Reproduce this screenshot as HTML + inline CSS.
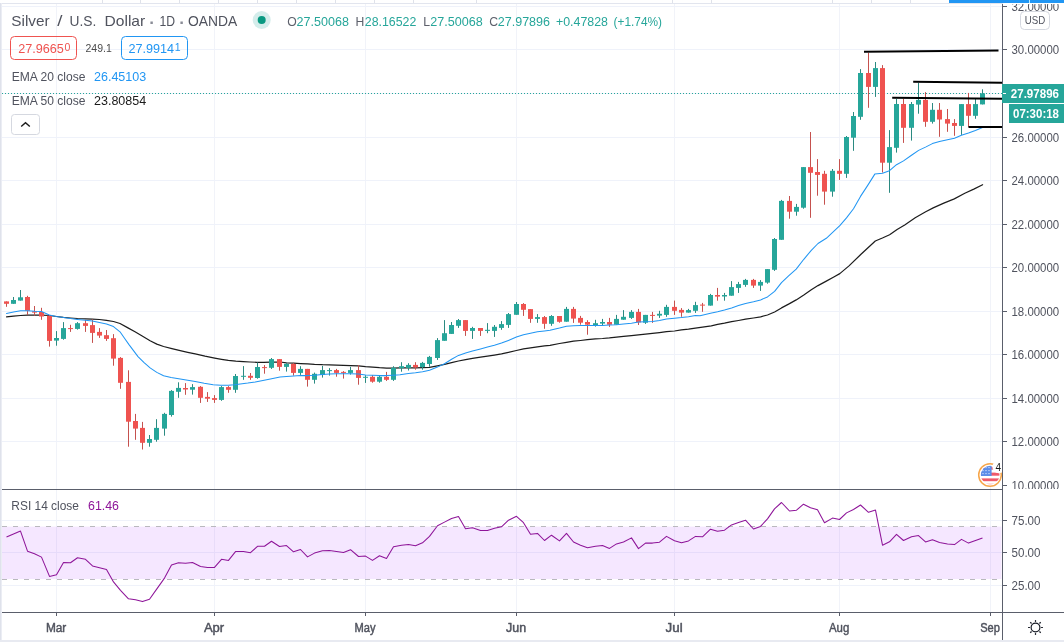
<!DOCTYPE html>
<html lang="en"><head><meta charset="utf-8"><title>Silver / U.S. Dollar chart</title>
<style>html,body{margin:0;padding:0;background:#fff;overflow:hidden}svg{display:block}</style>
</head><body>
<svg width="1064" height="642" viewBox="0 0 1064 642" font-family='"Liberation Sans", Arial, sans-serif'>
<rect width="1064" height="642" fill="#fff"/>
<g stroke="#eff2fa" stroke-width="1" shape-rendering="crispEdges">
<line x1="56.5" y1="4" x2="56.5" y2="489" stroke="#f1f3f9"/>
<line x1="56.5" y1="490" x2="56.5" y2="612" stroke="#f1f3f9"/>
<line x1="214.5" y1="4" x2="214.5" y2="489" stroke="#f1f3f9"/>
<line x1="214.5" y1="490" x2="214.5" y2="612" stroke="#f1f3f9"/>
<line x1="365.5" y1="4" x2="365.5" y2="489" stroke="#f1f3f9"/>
<line x1="365.5" y1="490" x2="365.5" y2="612" stroke="#f1f3f9"/>
<line x1="516.5" y1="4" x2="516.5" y2="489" stroke="#f1f3f9"/>
<line x1="516.5" y1="490" x2="516.5" y2="612" stroke="#f1f3f9"/>
<line x1="674.5" y1="4" x2="674.5" y2="489" stroke="#f1f3f9"/>
<line x1="674.5" y1="490" x2="674.5" y2="612" stroke="#f1f3f9"/>
<line x1="839.5" y1="4" x2="839.5" y2="489" stroke="#f1f3f9"/>
<line x1="839.5" y1="490" x2="839.5" y2="612" stroke="#f1f3f9"/>
<line x1="990.5" y1="4" x2="990.5" y2="489" stroke="#f1f3f9"/>
<line x1="990.5" y1="490" x2="990.5" y2="612" stroke="#f1f3f9"/>
<line x1="2" y1="441.5" x2="1002" y2="441.5"/>
<line x1="2" y1="398.5" x2="1002" y2="398.5"/>
<line x1="2" y1="354.5" x2="1002" y2="354.5"/>
<line x1="2" y1="311.5" x2="1002" y2="311.5"/>
<line x1="2" y1="267.5" x2="1002" y2="267.5"/>
<line x1="2" y1="224.5" x2="1002" y2="224.5"/>
<line x1="2" y1="180.5" x2="1002" y2="180.5"/>
<line x1="2" y1="137.5" x2="1002" y2="137.5"/>
<line x1="2" y1="93.5" x2="1002" y2="93.5"/>
<line x1="2" y1="49.5" x2="1002" y2="49.5"/>
<line x1="2" y1="6.5" x2="1002" y2="6.5"/>
<line x1="2" y1="520.5" x2="1002" y2="520.5"/>
<line x1="2" y1="552.5" x2="1002" y2="552.5"/>
<line x1="2" y1="585.5" x2="1002" y2="585.5"/>
</g>
<rect x="0" y="3" width="1003" height="1" fill="#e2e5ee"/>
<rect x="0" y="3" width="1" height="639" fill="#dfe2eb"/>
<rect x="1" y="3" width="1" height="639" fill="#ebedf4"/>
<rect x="0" y="640" width="1064" height="2" fill="#e8eaf1"/>
<g stroke="#dfe2ea" stroke-width="1" shape-rendering="crispEdges">
<line x1="102.5" y1="0" x2="102.5" y2="3"/>
<line x1="140.5" y1="0" x2="140.5" y2="3"/>
<line x1="179.5" y1="0" x2="179.5" y2="3"/>
<line x1="218.5" y1="0" x2="218.5" y2="3"/>
<line x1="257.5" y1="0" x2="257.5" y2="3"/>
<line x1="296.5" y1="0" x2="296.5" y2="3"/>
<line x1="335.5" y1="0" x2="335.5" y2="3"/>
<line x1="374.5" y1="0" x2="374.5" y2="3"/>
<line x1="413.5" y1="0" x2="413.5" y2="3"/>
<line x1="476.5" y1="0" x2="476.5" y2="3"/>
<line x1="672.5" y1="0" x2="672.5" y2="3"/>
<line x1="711.5" y1="0" x2="711.5" y2="3"/>
<line x1="832.5" y1="0" x2="832.5" y2="3"/>
<line x1="871.5" y1="0" x2="871.5" y2="3"/>
<line x1="910.5" y1="0" x2="910.5" y2="3"/>
</g>
<rect x="949" y="0" width="115" height="3" fill="#2196f3"/>
<rect x="1029" y="0" width="1" height="3" fill="#b8ecff"/>
<rect x="2" y="526.6" width="999.5" height="52.4" fill="#9915ff" fill-opacity="0.1"/>
<g stroke="#b9b9bd" stroke-width="1" stroke-dasharray="5 6">
<line x1="2" y1="526.5" x2="1001.5" y2="526.5"/><line x1="2" y1="579.5" x2="1001.5" y2="579.5"/></g>
<polyline points="6.5,537.1 13.5,534.1 20.5,531.1 27.5,551.2 34.5,553.7 41.5,557.1 49.5,576.4 56.5,574.7 63.5,562.5 70.5,562.7 77.5,557.8 85.5,559.3 92.5,565.9 99.5,567.8 106.5,569.6 113.5,581.9 120.5,590.3 128.5,598.8 135.5,599.7 142.5,601.6 149.5,599.3 156.5,589.4 164.5,578.1 171.5,564.9 178.5,562.7 185.5,563.3 192.5,562.5 200.5,566.5 207.5,567.4 214.5,567.4 221.5,559.3 228.5,560.4 235.5,551.6 243.5,551.4 250.5,552.7 257.5,546.3 264.5,546.3 271.5,541.3 279.5,546.5 286.5,545.6 293.5,551.8 300.5,549.5 307.5,556.9 314.5,553.1 322.5,550.7 329.5,550.5 336.5,551.4 343.5,552.4 350.5,549.7 358.5,556.5 365.5,556.1 372.5,560.4 379.5,555.7 386.5,558.4 393.5,546.7 401.5,545.2 408.5,544.5 415.5,545.8 422.5,542.8 429.5,536.4 437.5,525.7 444.5,522.1 451.5,518.5 458.5,516.5 465.5,528.7 472.5,527.7 480.5,530.4 487.5,530.4 494.5,528.3 501.5,526.8 508.5,520.2 516.5,516.3 523.5,522.7 530.5,534.3 537.5,533.4 544.5,540.5 551.5,535.2 559.5,540.9 566.5,533.4 573.5,542.0 580.5,545.2 587.5,547.7 595.5,546.3 602.5,545.6 609.5,548.4 616.5,543.9 623.5,542.0 631.5,537.9 638.5,548.6 645.5,543.1 652.5,543.1 659.5,542.2 666.5,536.4 674.5,540.7 681.5,542.8 688.5,540.9 695.5,536.4 702.5,536.8 710.5,529.2 717.5,531.3 724.5,530.2 731.5,524.9 738.5,522.5 745.5,520.2 753.5,529.0 760.5,526.4 767.5,518.9 774.5,508.9 781.5,502.5 789.5,511.0 796.5,510.2 803.5,504.2 810.5,507.8 817.5,509.7 824.5,522.7 832.5,518.1 839.5,519.5 846.5,512.9 853.5,509.5 860.5,505.0 868.5,512.3 875.5,510.1 882.5,545.2 889.5,541.8 896.5,534.3 903.5,540.5 911.5,536.7 918.5,535.6 925.5,541.9 932.5,539.7 939.5,542.4 947.5,543.9 954.5,544.6 961.5,539.4 968.5,543.1 975.5,540.4 982.5,537.9" fill="none" stroke="#8e1599" stroke-width="1.05" stroke-linejoin="round"/>
<line x1="2" y1="93.5" x2="1002" y2="93.5" stroke="#26a69a" stroke-width="1" stroke-dasharray="1 2"/>
<polyline points="6.5,316.8 13.5,316.1 20.6,315.5 27.5,315.2 34.6,315.0 41.5,315.2 49.3,315.5 56.4,316.5 63.5,317.4 70.4,318.0 77.4,318.5 85.4,318.8 92.3,319.1 99.4,319.5 106.5,320.3 113.5,321.5 120.0,323.5 127.5,327.6 135.0,331.8 142.6,336.3 150.1,340.8 156.8,344.1 163.6,346.5 171.9,348.6 180.2,350.6 187.7,352.3 195.2,353.9 205.0,356.2 214.7,358.1 221.5,359.3 228.3,360.4 235.8,361.1 243.3,361.6 250.1,362.0 256.8,362.3 263.6,362.3 270.4,362.2 280.0,362.0 286.5,362.9 293.6,363.2 300.5,363.6 307.6,363.9 314.5,364.4 322.5,364.7 329.4,364.8 336.5,365.1 343.5,365.3 350.5,365.6 358.4,365.9 365.5,366.6 372.6,367.1 379.5,367.7 386.5,368.1 393.5,368.1 400.0,367.9 408.4,367.9 415.5,367.9 422.6,367.7 429.5,367.4 437.4,365.9 444.5,364.4 451.6,362.6 458.5,361.0 465.6,359.6 472.5,358.4 480.5,357.2 487.5,356.2 494.4,355.1 501.5,353.9 508.4,352.4 516.4,350.5 523.5,348.9 530.5,347.9 537.4,346.8 544.5,345.9 550.0,345.4 559.5,343.5 566.5,342.3 573.5,341.2 580.5,340.5 587.4,339.7 595.4,338.9 602.5,338.5 609.4,337.9 616.5,337.1 623.5,336.4 631.5,335.6 638.4,334.9 645.5,334.1 652.4,333.4 659.5,332.6 666.5,331.7 674.5,331.0 681.4,329.9 688.5,329.2 695.4,328.1 702.5,327.2 711.3,325.9 717.6,324.4 724.5,323.2 731.6,321.7 738.5,320.5 745.6,319.2 753.5,318.0 760.6,316.8 767.5,315.0 774.6,312.0 781.5,307.9 788.6,304.1 796.2,299.9 803.8,295.0 811.3,289.8 818.0,285.6 826.3,281.1 833.8,276.9 839.8,273.6 849.0,265.9 861.0,254.2 875.3,241.0 882.4,238.0 889.6,234.7 897.1,229.4 904.7,224.9 915.2,217.8 925.7,211.8 933.2,207.9 943.8,203.1 954.3,198.9 964.8,193.3 973.8,189.1 982.6,184.7" fill="none" stroke="#1c1c1c" stroke-width="1.2" stroke-linejoin="round" stroke-linecap="round"/>
<g>
<rect x="6" y="301.4" width="1" height="5.4" fill="#c5514e"/>
<rect x="4" y="301.4" width="5" height="2.4" fill="#ef5350"/>
<rect x="13" y="297.0" width="1" height="6.8" fill="#2b8a81"/>
<rect x="11" y="300.0" width="5" height="3.8" fill="#26a69a"/>
<rect x="20" y="290.0" width="1" height="10.6" fill="#2b8a81"/>
<rect x="18" y="297.3" width="5" height="3.3" fill="#26a69a"/>
<rect x="27" y="295.8" width="1" height="19.1" fill="#c5514e"/>
<rect x="25" y="297.0" width="5" height="13.8" fill="#ef5350"/>
<rect x="34" y="306.0" width="1" height="9.6" fill="#c5514e"/>
<rect x="32" y="311.3" width="5" height="1.3" fill="#ef5350"/>
<rect x="41" y="307.8" width="1" height="12.0" fill="#c5514e"/>
<rect x="39" y="312.0" width="5" height="4.5" fill="#ef5350"/>
<rect x="49" y="314.9" width="1" height="31.7" fill="#c5514e"/>
<rect x="47" y="315.6" width="5" height="25.3" fill="#ef5350"/>
<rect x="56" y="331.1" width="1" height="14.6" fill="#2b8a81"/>
<rect x="54" y="338.0" width="5" height="2.6" fill="#26a69a"/>
<rect x="63" y="322.1" width="1" height="17.6" fill="#2b8a81"/>
<rect x="61" y="328.1" width="5" height="10.8" fill="#26a69a"/>
<rect x="70" y="324.8" width="1" height="7.1" fill="#c5514e"/>
<rect x="68" y="328.1" width="5" height="1.0" fill="#ef5350"/>
<rect x="77" y="322.1" width="1" height="7.5" fill="#2b8a81"/>
<rect x="75" y="323.2" width="5" height="5.7" fill="#26a69a"/>
<rect x="85" y="319.8" width="1" height="12.1" fill="#c5514e"/>
<rect x="83" y="323.2" width="5" height="2.7" fill="#ef5350"/>
<rect x="92" y="319.4" width="1" height="23.5" fill="#c5514e"/>
<rect x="90" y="325.1" width="5" height="7.8" fill="#ef5350"/>
<rect x="99" y="328.1" width="1" height="9.8" fill="#c5514e"/>
<rect x="97" y="331.9" width="5" height="3.7" fill="#ef5350"/>
<rect x="106" y="330.0" width="1" height="10.9" fill="#c5514e"/>
<rect x="104" y="335.2" width="5" height="3.7" fill="#ef5350"/>
<rect x="113" y="334.1" width="1" height="31.6" fill="#c5514e"/>
<rect x="111" y="338.2" width="5" height="20.4" fill="#ef5350"/>
<rect x="120" y="357.1" width="1" height="31.7" fill="#c5514e"/>
<rect x="118" y="357.9" width="5" height="24.9" fill="#ef5350"/>
<rect x="128" y="370.3" width="1" height="76.4" fill="#c5514e"/>
<rect x="126" y="381.9" width="5" height="39.8" fill="#ef5350"/>
<rect x="135" y="413.9" width="1" height="25.9" fill="#c5514e"/>
<rect x="133" y="421.0" width="5" height="7.6" fill="#ef5350"/>
<rect x="142" y="421.9" width="1" height="27.6" fill="#c5514e"/>
<rect x="140" y="427.9" width="5" height="14.9" fill="#ef5350"/>
<rect x="149" y="435.0" width="1" height="11.7" fill="#2b8a81"/>
<rect x="147" y="439.0" width="5" height="3.8" fill="#26a69a"/>
<rect x="156" y="419.2" width="1" height="22.5" fill="#2b8a81"/>
<rect x="154" y="427.9" width="5" height="11.9" fill="#26a69a"/>
<rect x="164" y="412.8" width="1" height="22.9" fill="#2b8a81"/>
<rect x="162" y="413.9" width="5" height="14.7" fill="#26a69a"/>
<rect x="171" y="390.1" width="1" height="26.5" fill="#2b8a81"/>
<rect x="169" y="390.9" width="5" height="24.1" fill="#26a69a"/>
<rect x="178" y="382.3" width="1" height="15.5" fill="#2b8a81"/>
<rect x="176" y="387.9" width="5" height="3.9" fill="#26a69a"/>
<rect x="185" y="383.1" width="1" height="11.7" fill="#c5514e"/>
<rect x="183" y="388.0" width="5" height="1.5" fill="#ef5350"/>
<rect x="192" y="384.1" width="1" height="10.5" fill="#2b8a81"/>
<rect x="190" y="387.1" width="5" height="2.6" fill="#26a69a"/>
<rect x="200" y="386.1" width="1" height="16.8" fill="#c5514e"/>
<rect x="198" y="386.8" width="5" height="11.0" fill="#ef5350"/>
<rect x="207" y="392.1" width="1" height="9.8" fill="#c5514e"/>
<rect x="205" y="396.9" width="5" height="1.8" fill="#ef5350"/>
<rect x="214" y="395.1" width="1" height="7.8" fill="#c5514e"/>
<rect x="212" y="398.1" width="5" height="1.8" fill="#ef5350"/>
<rect x="221" y="386.1" width="1" height="14.7" fill="#2b8a81"/>
<rect x="219" y="387.1" width="5" height="12.8" fill="#26a69a"/>
<rect x="228" y="386.1" width="1" height="6.7" fill="#c5514e"/>
<rect x="226" y="387.1" width="5" height="2.7" fill="#ef5350"/>
<rect x="235" y="374.0" width="1" height="18.8" fill="#2b8a81"/>
<rect x="233" y="376.0" width="5" height="13.8" fill="#26a69a"/>
<rect x="243" y="366.1" width="1" height="13.7" fill="#2b8a81"/>
<rect x="241" y="375.8" width="5" height="1.0" fill="#26a69a"/>
<rect x="250" y="373.0" width="1" height="6.8" fill="#c5514e"/>
<rect x="248" y="375.8" width="5" height="2.0" fill="#ef5350"/>
<rect x="257" y="362.5" width="1" height="16.2" fill="#2b8a81"/>
<rect x="255" y="367.0" width="5" height="11.0" fill="#26a69a"/>
<rect x="264" y="365.1" width="1" height="8.6" fill="#c5514e"/>
<rect x="262" y="367.1" width="5" height="1.0" fill="#ef5350"/>
<rect x="271" y="358.0" width="1" height="10.9" fill="#2b8a81"/>
<rect x="269" y="359.1" width="5" height="8.7" fill="#26a69a"/>
<rect x="279" y="359.1" width="1" height="11.6" fill="#c5514e"/>
<rect x="277" y="359.1" width="5" height="7.8" fill="#ef5350"/>
<rect x="286" y="362.9" width="1" height="8.7" fill="#2b8a81"/>
<rect x="284" y="363.9" width="5" height="3.0" fill="#26a69a"/>
<rect x="293" y="362.9" width="1" height="12.7" fill="#c5514e"/>
<rect x="291" y="363.9" width="5" height="9.0" fill="#ef5350"/>
<rect x="300" y="366.2" width="1" height="8.7" fill="#2b8a81"/>
<rect x="298" y="368.9" width="5" height="4.0" fill="#26a69a"/>
<rect x="307" y="368.9" width="1" height="17.7" fill="#c5514e"/>
<rect x="305" y="368.9" width="5" height="10.9" fill="#ef5350"/>
<rect x="314" y="372.6" width="1" height="11.0" fill="#2b8a81"/>
<rect x="312" y="373.8" width="5" height="6.0" fill="#26a69a"/>
<rect x="322" y="365.9" width="1" height="11.7" fill="#2b8a81"/>
<rect x="320" y="370.1" width="5" height="4.8" fill="#26a69a"/>
<rect x="329" y="368.1" width="1" height="7.5" fill="#2b8a81"/>
<rect x="327" y="370.1" width="5" height="1.0" fill="#26a69a"/>
<rect x="336" y="368.9" width="1" height="7.8" fill="#c5514e"/>
<rect x="334" y="370.1" width="5" height="2.8" fill="#ef5350"/>
<rect x="343" y="371.1" width="1" height="7.5" fill="#c5514e"/>
<rect x="341" y="371.9" width="5" height="1.0" fill="#ef5350"/>
<rect x="350" y="366.9" width="1" height="7.7" fill="#2b8a81"/>
<rect x="348" y="370.1" width="5" height="2.8" fill="#26a69a"/>
<rect x="358" y="365.1" width="1" height="19.6" fill="#c5514e"/>
<rect x="356" y="370.1" width="5" height="7.8" fill="#ef5350"/>
<rect x="365" y="375.2" width="1" height="7.7" fill="#2b8a81"/>
<rect x="363" y="376.8" width="5" height="1.0" fill="#26a69a"/>
<rect x="372" y="375.2" width="1" height="7.5" fill="#c5514e"/>
<rect x="370" y="376.8" width="5" height="4.9" fill="#ef5350"/>
<rect x="379" y="375.6" width="1" height="7.1" fill="#2b8a81"/>
<rect x="377" y="376.8" width="5" height="4.9" fill="#26a69a"/>
<rect x="386" y="371.9" width="1" height="9.0" fill="#c5514e"/>
<rect x="384" y="376.8" width="5" height="3.0" fill="#ef5350"/>
<rect x="393" y="366.2" width="1" height="14.7" fill="#2b8a81"/>
<rect x="391" y="367.8" width="5" height="12.0" fill="#26a69a"/>
<rect x="401" y="362.2" width="1" height="9.5" fill="#2b8a81"/>
<rect x="399" y="366.2" width="5" height="2.0" fill="#26a69a"/>
<rect x="408" y="363.2" width="1" height="7.3" fill="#2b8a81"/>
<rect x="406" y="364.9" width="5" height="3.0" fill="#26a69a"/>
<rect x="415" y="362.2" width="1" height="7.5" fill="#c5514e"/>
<rect x="413" y="364.9" width="5" height="2.5" fill="#ef5350"/>
<rect x="422" y="361.9" width="1" height="7.8" fill="#2b8a81"/>
<rect x="420" y="362.9" width="5" height="4.2" fill="#26a69a"/>
<rect x="429" y="355.9" width="1" height="10.8" fill="#2b8a81"/>
<rect x="427" y="356.9" width="5" height="7.1" fill="#26a69a"/>
<rect x="437" y="338.1" width="1" height="21.8" fill="#2b8a81"/>
<rect x="435" y="340.1" width="5" height="17.9" fill="#26a69a"/>
<rect x="444" y="320.1" width="1" height="20.7" fill="#2b8a81"/>
<rect x="442" y="333.2" width="5" height="7.6" fill="#26a69a"/>
<rect x="451" y="322.0" width="1" height="11.9" fill="#2b8a81"/>
<rect x="449" y="325.0" width="5" height="8.9" fill="#26a69a"/>
<rect x="458" y="319.0" width="1" height="8.9" fill="#2b8a81"/>
<rect x="456" y="320.1" width="5" height="5.7" fill="#26a69a"/>
<rect x="465" y="320.1" width="1" height="15.8" fill="#c5514e"/>
<rect x="463" y="320.1" width="5" height="10.8" fill="#ef5350"/>
<rect x="472" y="326.8" width="1" height="12.1" fill="#2b8a81"/>
<rect x="470" y="328.0" width="5" height="2.9" fill="#26a69a"/>
<rect x="480" y="328.0" width="1" height="7.9" fill="#c5514e"/>
<rect x="478" y="328.0" width="5" height="2.9" fill="#ef5350"/>
<rect x="487" y="323.1" width="1" height="10.1" fill="#2b8a81"/>
<rect x="485" y="329.8" width="5" height="1.1" fill="#26a69a"/>
<rect x="494" y="325.0" width="1" height="11.9" fill="#2b8a81"/>
<rect x="492" y="326.8" width="5" height="4.1" fill="#26a69a"/>
<rect x="501" y="321.1" width="1" height="8.7" fill="#2b8a81"/>
<rect x="499" y="324.1" width="5" height="3.8" fill="#26a69a"/>
<rect x="508" y="313.0" width="1" height="14.9" fill="#2b8a81"/>
<rect x="506" y="314.1" width="5" height="10.8" fill="#26a69a"/>
<rect x="516" y="302.0" width="1" height="12.8" fill="#2b8a81"/>
<rect x="514" y="304.0" width="5" height="10.8" fill="#26a69a"/>
<rect x="523" y="303.1" width="1" height="12.8" fill="#c5514e"/>
<rect x="521" y="304.0" width="5" height="5.8" fill="#ef5350"/>
<rect x="530" y="309.1" width="1" height="13.7" fill="#c5514e"/>
<rect x="528" y="309.1" width="5" height="9.8" fill="#ef5350"/>
<rect x="537" y="314.1" width="1" height="8.7" fill="#2b8a81"/>
<rect x="535" y="317.1" width="5" height="1.8" fill="#26a69a"/>
<rect x="544" y="316.0" width="1" height="12.8" fill="#c5514e"/>
<rect x="542" y="317.1" width="5" height="6.7" fill="#ef5350"/>
<rect x="551" y="315.1" width="1" height="10.7" fill="#2b8a81"/>
<rect x="549" y="316.0" width="5" height="7.8" fill="#26a69a"/>
<rect x="559" y="316.0" width="1" height="6.7" fill="#c5514e"/>
<rect x="557" y="316.0" width="5" height="5.8" fill="#ef5350"/>
<rect x="566" y="306.9" width="1" height="14.8" fill="#2b8a81"/>
<rect x="564" y="308.9" width="5" height="12.8" fill="#26a69a"/>
<rect x="573" y="306.9" width="1" height="16.0" fill="#c5514e"/>
<rect x="571" y="308.9" width="5" height="9.7" fill="#ef5350"/>
<rect x="580" y="315.9" width="1" height="8.8" fill="#c5514e"/>
<rect x="578" y="317.9" width="5" height="4.8" fill="#ef5350"/>
<rect x="587" y="320.2" width="1" height="14.5" fill="#c5514e"/>
<rect x="585" y="322.0" width="5" height="2.7" fill="#ef5350"/>
<rect x="595" y="319.8" width="1" height="6.8" fill="#2b8a81"/>
<rect x="593" y="323.2" width="5" height="1.8" fill="#26a69a"/>
<rect x="602" y="318.9" width="1" height="6.5" fill="#2b8a81"/>
<rect x="600" y="322.0" width="5" height="1.6" fill="#26a69a"/>
<rect x="609" y="317.9" width="1" height="9.0" fill="#c5514e"/>
<rect x="607" y="322.0" width="5" height="2.7" fill="#ef5350"/>
<rect x="616" y="314.9" width="1" height="9.8" fill="#2b8a81"/>
<rect x="614" y="318.9" width="5" height="5.8" fill="#26a69a"/>
<rect x="623" y="310.1" width="1" height="9.6" fill="#2b8a81"/>
<rect x="621" y="316.8" width="5" height="2.9" fill="#26a69a"/>
<rect x="631" y="310.1" width="1" height="8.8" fill="#2b8a81"/>
<rect x="629" y="311.9" width="5" height="6.0" fill="#26a69a"/>
<rect x="638" y="308.9" width="1" height="16.1" fill="#c5514e"/>
<rect x="636" y="311.9" width="5" height="10.5" fill="#ef5350"/>
<rect x="645" y="314.9" width="1" height="9.0" fill="#2b8a81"/>
<rect x="643" y="314.9" width="5" height="7.8" fill="#26a69a"/>
<rect x="652" y="311.9" width="1" height="11.0" fill="#c5514e"/>
<rect x="650" y="314.9" width="5" height="1.0" fill="#ef5350"/>
<rect x="659" y="310.8" width="1" height="7.1" fill="#2b8a81"/>
<rect x="657" y="313.8" width="5" height="1.8" fill="#26a69a"/>
<rect x="666" y="304.8" width="1" height="12.0" fill="#2b8a81"/>
<rect x="664" y="306.9" width="5" height="8.0" fill="#26a69a"/>
<rect x="674" y="300.6" width="1" height="14.3" fill="#c5514e"/>
<rect x="672" y="306.9" width="5" height="3.9" fill="#ef5350"/>
<rect x="681" y="308.1" width="1" height="8.7" fill="#c5514e"/>
<rect x="679" y="309.9" width="5" height="2.7" fill="#ef5350"/>
<rect x="688" y="308.9" width="1" height="3.7" fill="#2b8a81"/>
<rect x="686" y="310.1" width="5" height="2.5" fill="#26a69a"/>
<rect x="695" y="301.8" width="1" height="11.1" fill="#2b8a81"/>
<rect x="693" y="305.1" width="5" height="5.7" fill="#26a69a"/>
<rect x="702" y="302.9" width="1" height="8.9" fill="#c5514e"/>
<rect x="700" y="304.6" width="5" height="1.0" fill="#ef5350"/>
<rect x="710" y="293.9" width="1" height="11.7" fill="#2b8a81"/>
<rect x="708" y="295.0" width="5" height="10.6" fill="#26a69a"/>
<rect x="717" y="287.9" width="1" height="12.8" fill="#c5514e"/>
<rect x="715" y="295.0" width="5" height="1.6" fill="#ef5350"/>
<rect x="724" y="292.9" width="1" height="7.8" fill="#2b8a81"/>
<rect x="722" y="295.0" width="5" height="1.5" fill="#26a69a"/>
<rect x="731" y="281.1" width="1" height="14.6" fill="#2b8a81"/>
<rect x="729" y="287.1" width="5" height="8.6" fill="#26a69a"/>
<rect x="738" y="281.9" width="1" height="11.0" fill="#2b8a81"/>
<rect x="736" y="284.1" width="5" height="3.8" fill="#26a69a"/>
<rect x="745" y="278.9" width="1" height="7.9" fill="#2b8a81"/>
<rect x="743" y="279.9" width="5" height="5.0" fill="#26a69a"/>
<rect x="753" y="278.9" width="1" height="9.0" fill="#c5514e"/>
<rect x="751" y="279.9" width="5" height="5.7" fill="#ef5350"/>
<rect x="760" y="280.1" width="1" height="10.8" fill="#2b8a81"/>
<rect x="758" y="281.9" width="5" height="3.7" fill="#26a69a"/>
<rect x="767" y="269.1" width="1" height="14.6" fill="#2b8a81"/>
<rect x="765" y="269.1" width="5" height="13.5" fill="#26a69a"/>
<rect x="774" y="238.0" width="1" height="32.9" fill="#2b8a81"/>
<rect x="772" y="239.0" width="5" height="30.8" fill="#26a69a"/>
<rect x="781" y="199.9" width="1" height="39.9" fill="#2b8a81"/>
<rect x="779" y="200.9" width="5" height="38.9" fill="#26a69a"/>
<rect x="789" y="196.0" width="1" height="22.7" fill="#c5514e"/>
<rect x="787" y="200.9" width="5" height="10.8" fill="#ef5350"/>
<rect x="796" y="203.9" width="1" height="11.8" fill="#2b8a81"/>
<rect x="794" y="206.9" width="5" height="4.8" fill="#26a69a"/>
<rect x="803" y="167.1" width="1" height="41.6" fill="#2b8a81"/>
<rect x="801" y="167.1" width="5" height="40.6" fill="#26a69a"/>
<rect x="810" y="132.0" width="1" height="85.8" fill="#c5514e"/>
<rect x="808" y="167.1" width="5" height="5.7" fill="#ef5350"/>
<rect x="817" y="159.1" width="1" height="36.6" fill="#c5514e"/>
<rect x="815" y="172.0" width="5" height="2.9" fill="#ef5350"/>
<rect x="824" y="170.8" width="1" height="33.9" fill="#c5514e"/>
<rect x="822" y="173.8" width="5" height="17.8" fill="#ef5350"/>
<rect x="832" y="169.0" width="1" height="27.7" fill="#2b8a81"/>
<rect x="830" y="170.8" width="5" height="20.8" fill="#26a69a"/>
<rect x="839" y="159.1" width="1" height="20.8" fill="#c5514e"/>
<rect x="837" y="170.8" width="5" height="3.0" fill="#ef5350"/>
<rect x="846" y="136.0" width="1" height="41.9" fill="#2b8a81"/>
<rect x="844" y="137.0" width="5" height="36.8" fill="#26a69a"/>
<rect x="853" y="112.0" width="1" height="38.8" fill="#2b8a81"/>
<rect x="851" y="116.0" width="5" height="21.7" fill="#26a69a"/>
<rect x="860" y="69.1" width="1" height="50.7" fill="#2b8a81"/>
<rect x="858" y="73.0" width="5" height="43.8" fill="#26a69a"/>
<rect x="868" y="52.7" width="1" height="55.1" fill="#c5514e"/>
<rect x="866" y="73.0" width="5" height="13.9" fill="#ef5350"/>
<rect x="875" y="62.0" width="1" height="34.9" fill="#2b8a81"/>
<rect x="873" y="68.1" width="5" height="18.8" fill="#26a69a"/>
<rect x="882" y="65.1" width="1" height="107.4" fill="#c5514e"/>
<rect x="880" y="68.1" width="5" height="94.6" fill="#ef5350"/>
<rect x="889" y="130.1" width="1" height="62.7" fill="#2b8a81"/>
<rect x="887" y="147.1" width="5" height="15.6" fill="#26a69a"/>
<rect x="896" y="98.9" width="1" height="53.7" fill="#2b8a81"/>
<rect x="894" y="104.0" width="5" height="43.8" fill="#26a69a"/>
<rect x="903" y="98.9" width="1" height="44.0" fill="#c5514e"/>
<rect x="901" y="104.0" width="5" height="23.8" fill="#ef5350"/>
<rect x="911" y="102.0" width="1" height="38.6" fill="#2b8a81"/>
<rect x="909" y="104.0" width="5" height="23.8" fill="#26a69a"/>
<rect x="918" y="82.8" width="1" height="30.9" fill="#2b8a81"/>
<rect x="916" y="99.9" width="5" height="4.7" fill="#26a69a"/>
<rect x="925" y="92.1" width="1" height="34.7" fill="#c5514e"/>
<rect x="923" y="99.9" width="5" height="21.9" fill="#ef5350"/>
<rect x="932" y="103.0" width="1" height="20.6" fill="#2b8a81"/>
<rect x="930" y="109.8" width="5" height="12.0" fill="#26a69a"/>
<rect x="939" y="103.0" width="1" height="33.8" fill="#c5514e"/>
<rect x="937" y="109.8" width="5" height="9.7" fill="#ef5350"/>
<rect x="947" y="109.0" width="1" height="22.8" fill="#c5514e"/>
<rect x="945" y="119.1" width="5" height="4.5" fill="#ef5350"/>
<rect x="954" y="119.1" width="1" height="16.7" fill="#c5514e"/>
<rect x="952" y="123.0" width="5" height="2.9" fill="#ef5350"/>
<rect x="961" y="104.1" width="1" height="30.8" fill="#2b8a81"/>
<rect x="959" y="104.1" width="5" height="21.8" fill="#26a69a"/>
<rect x="968" y="92.9" width="1" height="33.9" fill="#c5514e"/>
<rect x="966" y="104.1" width="5" height="11.7" fill="#ef5350"/>
<rect x="975" y="99.0" width="1" height="19.8" fill="#2b8a81"/>
<rect x="973" y="104.1" width="5" height="11.7" fill="#26a69a"/>
<rect x="982" y="89.3" width="1" height="15.1" fill="#2b8a81"/>
<rect x="980" y="93.3" width="5" height="11.1" fill="#26a69a"/>
</g>
<polyline points="6.5,313.4 13.5,312.0 20.6,310.8 27.5,310.8 34.6,311.3 41.5,311.6 49.3,314.9 56.4,316.5 63.5,317.6 70.4,318.6 77.4,319.4 85.4,320.2 92.3,320.9 99.4,322.4 106.5,323.9 113.5,326.6 120.0,331.8 124.5,338.3 129.0,344.6 133.5,350.6 138.0,356.6 144.1,362.6 150.1,367.9 156.8,372.4 163.6,375.7 171.1,377.4 180.2,378.9 187.7,380.2 195.2,381.4 204.2,383.2 213.2,384.7 220.8,385.2 228.3,385.2 234.3,384.7 240.3,384.0 247.8,383.1 255.3,381.9 262.9,380.4 270.4,378.9 280.0,376.9 286.5,376.4 293.6,375.9 300.5,375.6 307.6,375.6 314.5,375.3 322.5,374.6 329.4,374.1 336.5,373.8 343.5,373.8 350.5,373.7 358.4,374.1 365.5,374.9 372.6,375.3 379.5,375.6 386.5,375.6 393.5,375.2 400.0,374.7 408.4,373.5 415.5,372.7 422.6,371.7 429.5,370.2 437.4,367.1 444.5,363.7 451.6,359.2 458.5,355.4 465.6,352.9 472.5,350.9 480.5,348.9 487.5,347.1 494.4,345.3 501.5,343.1 508.4,340.4 516.4,337.1 523.5,334.7 530.5,333.2 537.4,331.8 544.5,330.9 550.0,330.2 559.5,328.1 566.5,326.2 573.5,325.7 580.5,325.4 587.4,325.4 595.4,325.4 602.5,325.4 609.4,325.1 616.5,324.7 623.5,323.9 631.5,323.2 638.4,322.1 645.5,321.7 652.4,321.4 659.5,320.6 666.5,319.1 674.5,318.2 681.4,317.6 688.5,316.7 695.4,315.6 700.0,315.7 710.5,313.2 717.6,311.7 724.5,310.0 731.6,307.9 738.5,305.6 745.6,303.4 753.5,301.7 760.6,299.9 767.5,296.9 774.6,291.4 781.5,282.6 788.6,275.9 796.2,269.1 803.8,259.3 811.3,250.3 818.0,243.5 826.3,238.3 835.3,229.9 839.8,225.7 846.5,217.9 853.5,208.7 860.5,196.4 867.4,185.9 874.8,174.1 882.5,173.2 889.5,170.7 896.5,164.7 903.5,160.9 911.5,155.3 918.6,150.4 925.5,147.1 932.4,143.6 939.5,141.4 947.4,139.8 954.5,138.3 961.4,135.3 968.5,133.1 975.4,130.5 982.5,127.5" fill="none" stroke="#2196f3" stroke-width="1.05" stroke-linejoin="round" stroke-linecap="round"/>
<g stroke="#000" stroke-width="2" stroke-linecap="butt">
<line x1="864" y1="51.8" x2="998.5" y2="50.4"/>
<line x1="913.2" y1="81.8" x2="1002" y2="82.7"/>
<line x1="892.2" y1="97.7" x2="1002" y2="98.7"/>
<line x1="968.5" y1="127" x2="1002" y2="127"/>
</g>
<defs><clipPath id="cpane"><rect x="0" y="6" width="1002" height="483"/></clipPath><clipPath id="cflag"><circle cx="990.2" cy="475" r="9.3"/></clipPath></defs>
<g clip-path="url(#cpane)">
<circle cx="990" cy="475" r="11.3" fill="#fff" stroke="#f7a64a" stroke-width="1.5"/>
<g clip-path="url(#cflag)">
<rect x="978" y="463" width="26" height="26" fill="#fff"/>
<rect x="978" y="466.8" width="26" height="2.8" fill="#ef5a6a"/>
<rect x="978" y="472.6" width="26" height="3.1" fill="#ef5a6a"/>
<rect x="978" y="478.4" width="26" height="2.8" fill="#ef5a6a"/>
<rect x="978" y="483.8" width="26" height="3.2" fill="#ef5a6a"/>
<rect x="978" y="463" width="13.6" height="13" fill="#5b8de8"/>
<circle cx="983" cy="467.6" r="0.65" fill="#e6eeff"/>
<circle cx="986" cy="467.6" r="0.65" fill="#e6eeff"/>
<circle cx="989" cy="467.6" r="0.65" fill="#e6eeff"/>
<circle cx="983" cy="470.6" r="0.65" fill="#e6eeff"/>
<circle cx="986" cy="470.6" r="0.65" fill="#e6eeff"/>
<circle cx="989" cy="470.6" r="0.65" fill="#e6eeff"/>
<circle cx="983" cy="473.6" r="0.65" fill="#e6eeff"/>
<circle cx="986" cy="473.6" r="0.65" fill="#e6eeff"/>
<circle cx="989" cy="473.6" r="0.65" fill="#e6eeff"/>
</g>
<circle cx="998.6" cy="467" r="6.2" fill="#fff"/>
<text x="995.4" y="470.6" font-size="10" fill="#1a1a1a">4</text>
</g>
<g fill="#5a5e6b" shape-rendering="crispEdges">
<rect x="2" y="489" width="1001" height="1"/>
<rect x="2" y="612" width="1062" height="1"/>
<rect x="1002" y="4" width="1" height="636"/>
<rect x="1003" y="485" width="4" height="1"/>
<rect x="1003" y="441" width="4" height="1"/>
<rect x="1003" y="398" width="4" height="1"/>
<rect x="1003" y="354" width="4" height="1"/>
<rect x="1003" y="311" width="4" height="1"/>
<rect x="1003" y="267" width="4" height="1"/>
<rect x="1003" y="224" width="4" height="1"/>
<rect x="1003" y="180" width="4" height="1"/>
<rect x="1003" y="137" width="4" height="1"/>
<rect x="1003" y="93" width="4" height="1"/>
<rect x="1003" y="49" width="4" height="1"/>
<rect x="1003" y="6" width="4" height="1"/>
<rect x="1003" y="520" width="4" height="1"/>
<rect x="1003" y="552" width="4" height="1"/>
<rect x="1003" y="585" width="4" height="1"/>
<rect x="56" y="613" width="1" height="3"/>
<rect x="214" y="613" width="1" height="3"/>
<rect x="365" y="613" width="1" height="3"/>
<rect x="516" y="613" width="1" height="3"/>
<rect x="674" y="613" width="1" height="3"/>
<rect x="839" y="613" width="1" height="3"/>
<rect x="990" y="613" width="1" height="3"/>
</g>
<defs><clipPath id="cax"><rect x="1003" y="4" width="61" height="485"/></clipPath></defs>
<g font-size="12.2" fill="#50535e" clip-path="url(#cax)">
<text x="1011.5" y="489.8" textLength="47.7" lengthAdjust="spacingAndGlyphs">10.00000</text>
<text x="1011.5" y="445.8" textLength="47.7" lengthAdjust="spacingAndGlyphs">12.00000</text>
<text x="1011.5" y="402.8" textLength="47.7" lengthAdjust="spacingAndGlyphs">14.00000</text>
<text x="1011.5" y="358.8" textLength="47.7" lengthAdjust="spacingAndGlyphs">16.00000</text>
<text x="1011.5" y="315.8" textLength="47.7" lengthAdjust="spacingAndGlyphs">18.00000</text>
<text x="1011.5" y="271.8" textLength="47.7" lengthAdjust="spacingAndGlyphs">20.00000</text>
<text x="1011.5" y="228.8" textLength="47.7" lengthAdjust="spacingAndGlyphs">22.00000</text>
<text x="1011.5" y="184.8" textLength="47.7" lengthAdjust="spacingAndGlyphs">24.00000</text>
<text x="1011.5" y="141.8" textLength="47.7" lengthAdjust="spacingAndGlyphs">26.00000</text>
<text x="1011.5" y="97.8" textLength="47.7" lengthAdjust="spacingAndGlyphs">28.00000</text>
<text x="1011.5" y="53.8" textLength="47.7" lengthAdjust="spacingAndGlyphs">30.00000</text>
<text x="1011.5" y="10.8" textLength="47.7" lengthAdjust="spacingAndGlyphs">32.00000</text>
</g>
<g font-size="12.2" fill="#50535e">
<text x="1011.5" y="524.9" textLength="29" lengthAdjust="spacingAndGlyphs">75.00</text>
<text x="1011.5" y="556.9" textLength="29" lengthAdjust="spacingAndGlyphs">50.00</text>
<text x="1011.5" y="589.9" textLength="29" lengthAdjust="spacingAndGlyphs">25.00</text>
</g>
<g font-size="12" fill="#50535e" stroke="#50535e" stroke-width="0.45" stroke-linejoin="round">
<text x="45.9" y="631.7" textLength="20.4" lengthAdjust="spacingAndGlyphs">Mar</text>
<text x="203.9" y="631.7" textLength="20.3" lengthAdjust="spacingAndGlyphs">Apr</text>
<text x="354.6" y="631.7" textLength="21" lengthAdjust="spacingAndGlyphs">May</text>
<text x="506.1" y="631.7" textLength="20" lengthAdjust="spacingAndGlyphs">Jun</text>
<text x="665.6" y="631.7" textLength="17" lengthAdjust="spacingAndGlyphs">Jul</text>
<text x="829.0" y="631.7" textLength="20.3" lengthAdjust="spacingAndGlyphs">Aug</text>
<text x="980.2" y="631.7" textLength="19.7" lengthAdjust="spacingAndGlyphs">Sep</text>
</g>
<rect x="1020.5" y="11.5" width="29" height="18" rx="4" fill="#fff" stroke="#d5d8e0"/>
<text x="1035" y="24" font-size="11.6" fill="#50535e" text-anchor="middle" textLength="20.5" lengthAdjust="spacingAndGlyphs">USD</text>
<rect x="1002" y="84" width="62" height="19" fill="#26a69a"/>
<rect x="1003" y="93" width="3" height="1" fill="#fff"/>
<text x="1010.8" y="97.8" font-size="12.4" font-weight="bold" fill="#fff" textLength="48.2" lengthAdjust="spacingAndGlyphs">27.97896</text>
<rect x="1009" y="104" width="55" height="19" fill="#26a69a"/>
<text x="1013" y="117.8" font-size="12.4" font-weight="bold" fill="#fff" textLength="46" lengthAdjust="spacingAndGlyphs">07:30:18</text>
<g font-size="15" fill="#50535e">
<text x="11.3" y="25.6" textLength="38.3" lengthAdjust="spacingAndGlyphs">Silver</text>
<text x="57.2" y="25.6" textLength="5.2" lengthAdjust="spacingAndGlyphs">/</text>
<text x="69.6" y="25.6" textLength="26.8" lengthAdjust="spacingAndGlyphs">U.S.</text>
<text x="104.5" y="25.6" textLength="40.7" lengthAdjust="spacingAndGlyphs">Dollar</text>
<text x="159.4" y="25.6" textLength="15.6" lengthAdjust="spacingAndGlyphs">1D</text>
<text x="188" y="25.6" textLength="49.3" lengthAdjust="spacingAndGlyphs">OANDA</text>
<text x="152.1" y="27.6" font-size="17" font-weight="bold" fill="#8a8d97" text-anchor="middle">·</text>
<text x="182.1" y="27.6" font-size="17" font-weight="bold" fill="#8a8d97" text-anchor="middle">·</text>
</g>
<circle cx="261.7" cy="20" r="9" fill="#26a69a" fill-opacity="0.2"/><circle cx="261.7" cy="20" r="4" fill="#089981"/>
<g font-size="12.6">
<text x="287.3" y="25.6" fill="#5d606b" font-size="12.2">O</text>
<text x="296.6" y="25.6" fill="#26a69a" textLength="52.3" lengthAdjust="spacingAndGlyphs">27.50068</text>
<text x="355.5" y="25.6" fill="#5d606b" font-size="12.2">H</text>
<text x="364.8" y="25.6" fill="#26a69a" textLength="51.5" lengthAdjust="spacingAndGlyphs">28.16522</text>
<text x="423.3" y="25.6" fill="#5d606b" font-size="12.2">L</text>
<text x="430.3" y="25.6" fill="#26a69a" textLength="52.5" lengthAdjust="spacingAndGlyphs">27.50068</text>
<text x="489.3" y="25.6" fill="#5d606b" font-size="12.2">C</text>
<text x="497.8" y="25.6" fill="#26a69a" textLength="52.2" lengthAdjust="spacingAndGlyphs">27.97896</text>
<text x="556" y="25.6" fill="#26a69a" textLength="52" lengthAdjust="spacingAndGlyphs">+0.47828</text>
<text x="613.5" y="25.6" fill="#26a69a" textLength="48.5" lengthAdjust="spacingAndGlyphs">(+1.74%)</text>
</g>
<rect x="10.5" y="36.5" width="66" height="23" rx="4" fill="none" stroke="#ef5350"/>
<text x="18.2" y="52.6" font-size="12.6" fill="#ef5350"><tspan textLength="45.7" lengthAdjust="spacingAndGlyphs">27.9665</tspan><tspan font-size="10.5" dy="-1.8" dx="0.6">0</tspan></text>
<text x="85.5" y="52.2" font-size="11" fill="#4a4a4a" textLength="26.3" lengthAdjust="spacingAndGlyphs">249.1</text>
<rect x="121.5" y="36.5" width="66" height="23" rx="4" fill="none" stroke="#2196f3"/>
<text x="128.4" y="52.6" font-size="12.6" fill="#2196f3"><tspan textLength="45.7" lengthAdjust="spacingAndGlyphs">27.9914</tspan><tspan font-size="10.5" dy="-1.8" dx="0.6">1</tspan></text>
<text x="11.7" y="80.6" font-size="12.2" fill="#50535e" textLength="73.8" lengthAdjust="spacingAndGlyphs">EMA 20 close</text>
<text x="94" y="80.6" font-size="12.6" fill="#2196f3" textLength="52.2" lengthAdjust="spacingAndGlyphs">26.45103</text>
<text x="11.7" y="104.7" font-size="12.2" fill="#50535e" textLength="73.8" lengthAdjust="spacingAndGlyphs">EMA 50 close</text>
<text x="94" y="104.7" font-size="12.6" fill="#1a1a1a" textLength="52.2" lengthAdjust="spacingAndGlyphs">23.80854</text>
<rect x="11.5" y="114.5" width="28" height="20" rx="3" fill="#fff" stroke="#d5d8e0"/>
<path d="M21.2 126.6 L25.5 122.8 L29.8 126.6" fill="none" stroke="#1a1a1a" stroke-width="1.4"/>
<text x="11.3" y="510.4" font-size="12.2" fill="#50535e" textLength="67.7" lengthAdjust="spacingAndGlyphs">RSI 14 close</text>
<text x="88" y="510.4" font-size="12.6" fill="#8e1599" textLength="31" lengthAdjust="spacingAndGlyphs">61.46</text>
<g stroke="#131722" stroke-width="1.2" fill="none">
<circle cx="1035.5" cy="627.5" r="4.4"/>
<line x1="1041.10" y1="627.50" x2="1042.90" y2="627.50"/>
<line x1="1039.46" y1="631.46" x2="1040.73" y2="632.73"/>
<line x1="1035.50" y1="633.10" x2="1035.50" y2="634.90"/>
<line x1="1031.54" y1="631.46" x2="1030.27" y2="632.73"/>
<line x1="1029.90" y1="627.50" x2="1028.10" y2="627.50"/>
<line x1="1031.54" y1="623.54" x2="1030.27" y2="622.27"/>
<line x1="1035.50" y1="621.90" x2="1035.50" y2="620.10"/>
<line x1="1039.46" y1="623.54" x2="1040.73" y2="622.27"/>
</g>
</svg>
</body></html>
